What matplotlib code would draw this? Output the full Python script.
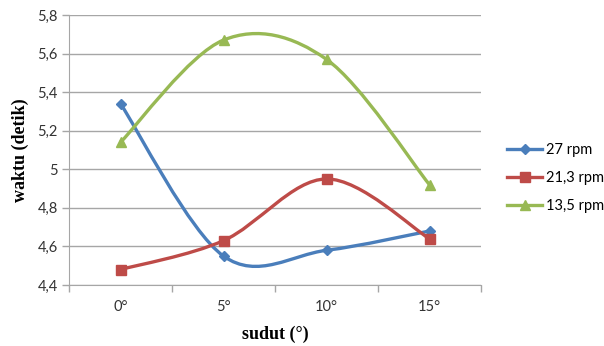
import matplotlib
matplotlib.use("Agg")
import matplotlib.pyplot as plt
import numpy as np
from matplotlib.path import Path
from matplotlib.patches import PathPatch
from matplotlib.lines import Line2D
from matplotlib.ticker import FixedLocator, FuncFormatter

####

categories = ["0°", "5°", "10°", "15°"]
series_names = ["27 rpm", "21,3 rpm", "13,5 rpm"]
rpm_27 = [5.34, 4.55, 4.58, 4.68]
rpm_21 = [4.48, 4.63, 4.95, 4.64]
rpm_13 = [5.14, 5.67, 5.57, 4.92]
y_ticks = [4.4, 4.6, 4.8, 5.0, 5.2, 5.4, 5.6, 5.8]

colors = ["#4A7EBB", "#BE4B48", "#98B954"]
markers = ["D", "s", "^"]
msizes = [5, 7, 7]


def smooth_path(xs, ys):
    # excel-like smoothed line: cubic bezier, tension 1/6
    pts = np.column_stack([xs, ys]).astype(float)
    n = len(pts)
    verts = [pts[0]]
    codes = [Path.MOVETO]
    for i in range(n - 1):
        p0 = pts[max(i - 1, 0)]
        p1 = pts[i]
        p2 = pts[i + 1]
        p3 = pts[min(i + 2, n - 1)]
        c1 = p1 + (p2 - p0) / 6.0
        c2 = p2 - (p3 - p1) / 6.0
        verts += [c1, c2, p2]
        codes += [Path.CURVE4] * 3
    return Path(verts, codes)


fig = plt.figure(figsize=(6.04, 3.46), dpi=100, facecolor='w')
ax = fig.add_axes([69 / 604., 1 - 285 / 346., 412 / 604., 270 / 346.])

x = np.arange(len(categories))
data = [rpm_27, rpm_21, rpm_13]

for vals, c, m, ms in zip(data, colors, markers, msizes):
    patch = PathPatch(smooth_path(x, vals), facecolor='none', edgecolor=c,
                      lw=2.4, zorder=3)
    ax.add_patch(patch)
    ax.plot(x, vals, linestyle='none', marker=m, color=c, ms=ms, zorder=4)

ax.set_xlim(-0.5, len(categories) - 0.5)
ax.set_ylim(4.4, 5.8)

ax.set_yticks(y_ticks)
ax.yaxis.set_major_formatter(FuncFormatter(
    lambda v, p: ("%.1f" % v).rstrip('0').rstrip('.').replace('.', ',')))
ax.yaxis.grid(True, color='#a6a6a6', lw=1)
ax.set_axisbelow(True)

ax.set_xticks(x)
ax.set_xticklabels(categories)
ax.xaxis.set_minor_locator(FixedLocator(np.arange(-0.5, len(categories), 1)))
ax.tick_params(axis='x', which='major', length=0, pad=11)
ax.tick_params(axis='x', which='minor', length=5, color='#a6a6a6', width=1)
ax.tick_params(axis='y', length=5, color='#a6a6a6', width=1, pad=3)

for lab in ax.get_xticklabels() + ax.get_yticklabels():
    lab.set_fontfamily("Lato")
    lab.set_fontsize(10.5)
    lab.set_color('#333333')

for s in ["top", "right"]:
    ax.spines[s].set_visible(False)
ax.spines["left"].set_color('#a6a6a6')
ax.spines["bottom"].set_color('#a6a6a6')

ax.set_ylabel("waktu (detik)", family="Liberation Serif", fontweight='bold',
              fontsize=13, labelpad=6)
ax.set_xlabel("sudut (°)", family="Liberation Serif", fontweight='bold',
              fontsize=13, labelpad=8)

handles = [Line2D([], [], color=c, marker=m, ms=ms, lw=2.4)
           for c, m, ms in zip(colors, markers, msizes)]
fig.legend(handles, series_names, loc='center left',
           bbox_to_anchor=(494 / 604., 1 - 178 / 346.), frameon=False,
           prop={'family': 'Lato', 'size': 10.5}, handlelength=2.4,
           handletextpad=0.25, labelspacing=0.95)

fig.savefig("out.png", dpi=100)
